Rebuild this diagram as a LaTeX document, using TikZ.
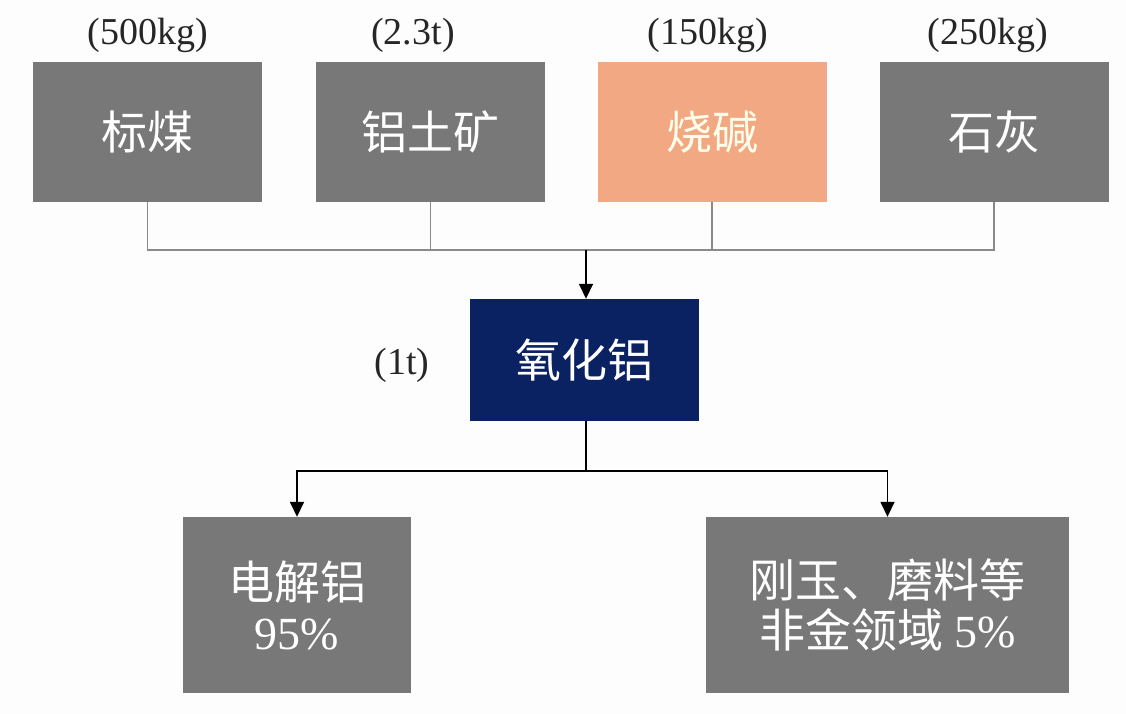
\documentclass[tikz,border=0pt]{standalone}
\usepackage{fontspec}
\setmainfont{Liberation Serif}
\newfontfamily\cjk{Noto Sans CJK SC}
\usetikzlibrary{arrows.meta}
\definecolor{boxgray}{HTML}{787878}
\definecolor{salmon}{HTML}{F2A983}
\definecolor{navy}{HTML}{0B2262}
\definecolor{linegray}{HTML}{8A8A8A}
\definecolor{paper}{HTML}{FDFDFD}
\tikzset{
  topbox/.style={rectangle, fill=boxgray, inner sep=0pt, minimum width=229pt, minimum height=140pt,
    text=white, font=\fontsize{46}{54}\selectfont\cjk},
  wlabel/.style={inner sep=0pt, font=\fontsize{38}{42}\selectfont, text=black!85},
  graylink/.style={draw=linegray, line width=1.4pt},
  blacklink/.style={draw=black, line width=1.6pt},
  tip/.style={-{Triangle[length=15pt,width=14pt]}}
}
\begin{document}
\begin{tikzpicture}[x=1pt,y=-1pt]
\fill[paper] (0,0) rectangle (1126,714);
\useasboundingbox (0,0) rectangle (1126,714);

% top boxes
\node[topbox] (b1) at (147.5,132) {标煤};
\node[topbox] (b2) at (430.5,132) {铝土矿};
\node[topbox, fill=salmon, text=white!92!yellow] (b3) at (712,132) {烧碱};
\node[topbox] (b4) at (994,132) {石灰};

% quantity labels
\node[wlabel] (q1) at (148,35) {(500kg)};
\node[wlabel] (q2) at (413,35) {(2.3t)};
\node[wlabel] (q3) at (708,35) {(150kg)};
\node[wlabel] (q4) at (988,35) {(250kg)};

% middle box
\node[topbox, fill=navy, minimum width=229pt, minimum height=122pt] (mid) at (584.5,360) {氧化铝};
\node[wlabel] (q5) at (402,365) {(1t)};

% bottom boxes
\node[topbox, minimum width=228pt, minimum height=176pt, align=center] (bl) at (297,605)
  {电解铝\\[-4pt]{\rmfamily\fontsize{46}{50}\selectfont 95\%}};
\node[topbox, minimum width=363pt, minimum height=176pt, align=center] (br) at (887.5,605)
  {刚玉、磨料等\\[-4pt]非金领域\ {\rmfamily\fontsize{46}{50}\selectfont 5\%}};

% top connectors
\coordinate (jt) at (586,250);
\draw[graylink] (b1.south) |- (jt);
\draw[graylink] (b4.south) |- (jt);
\draw[graylink] (b2.south) -- (b2.south |- jt);
\draw[graylink] (b3.south) -- (b3.south |- jt);
\draw[blacklink, tip] (jt) -- (jt |- mid.north);

% bottom connectors
\coordinate (jb) at (586,471);
\draw[blacklink] (jb |- mid.south) -- (jb);
\draw[blacklink, tip] (jb) -| (bl.north);
\draw[blacklink, tip] (jb) -| (br.north);
\end{tikzpicture}
\end{document}
